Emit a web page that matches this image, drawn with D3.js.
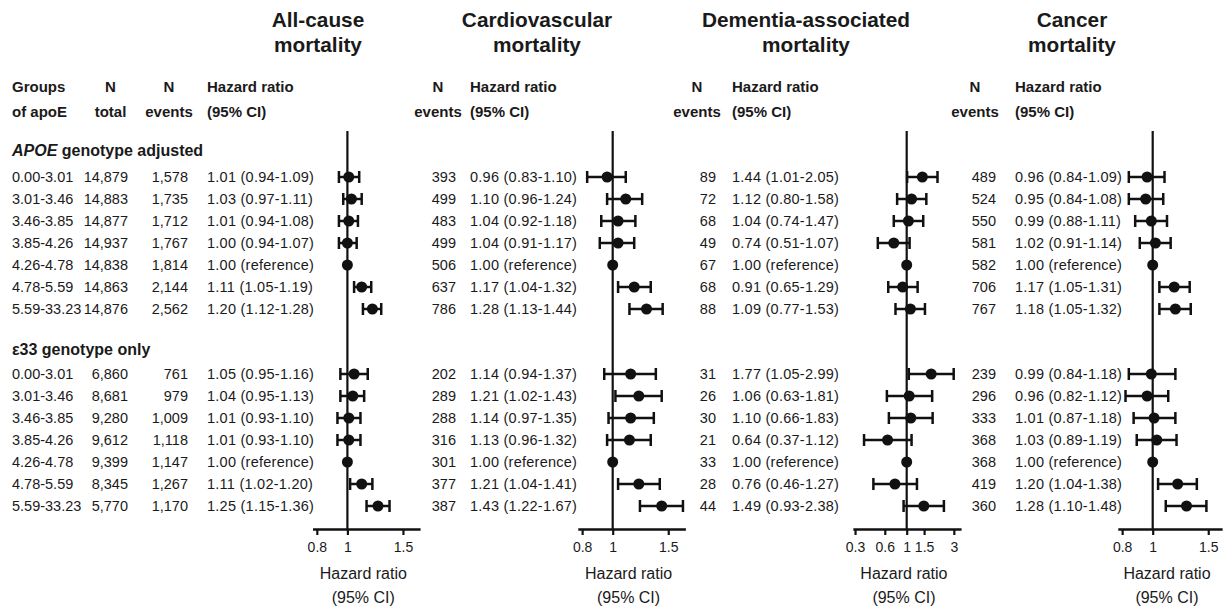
<!DOCTYPE html>
<html>
<head>
<meta charset="utf-8">
<script src="https://cdn.jsdelivr.net/npm/d3@7"></script>
<style>
  html, body { margin: 0; padding: 0; background: #fff; }
  svg { display: block; font-family: "Liberation Sans", Arial, Helvetica, sans-serif; }
</style>
</head>
<body>
<svg id="chart" width="1223" height="607"></svg>
<script>
// ---------- DATA ----------
const groups = ["0.00-3.01","3.01-3.46","3.46-3.85","3.85-4.26","4.26-4.78","4.78-5.59","5.59-33.23"];
const refIndex = 4;
const sections = ["APOE genotype adjusted", "ε33 genotype only"];

// APOE genotype adjusted
const apoeNTotal   = [14879, 14883, 14877, 14937, 14838, 14863, 14876];
const apoeAllN     = [1578, 1735, 1712, 1767, 1814, 2144, 2562];
const apoeAllHR    = [[1.01,0.94,1.09],[1.03,0.97,1.11],[1.01,0.94,1.08],[1.00,0.94,1.07],[1,1,1],[1.11,1.05,1.19],[1.20,1.12,1.28]];
const apoeCvN      = [393, 499, 483, 499, 506, 637, 786];
const apoeCvHR     = [[0.96,0.83,1.10],[1.10,0.96,1.24],[1.04,0.92,1.18],[1.04,0.91,1.17],[1,1,1],[1.17,1.04,1.32],[1.28,1.13,1.44]];
const apoeDemN     = [89, 72, 68, 49, 67, 68, 88];
const apoeDemHR    = [[1.44,1.01,2.05],[1.12,0.80,1.58],[1.04,0.74,1.47],[0.74,0.51,1.07],[1,1,1],[0.91,0.65,1.29],[1.09,0.77,1.53]];
const apoeCanN     = [489, 524, 550, 581, 582, 706, 767];
const apoeCanHR    = [[0.96,0.84,1.09],[0.95,0.84,1.08],[0.99,0.88,1.11],[1.02,0.91,1.14],[1,1,1],[1.17,1.05,1.31],[1.18,1.05,1.32]];

// e33 genotype only
const e33NTotal    = [6860, 8681, 9280, 9612, 9399, 8345, 5770];
const e33AllN      = [761, 979, 1009, 1118, 1147, 1267, 1170];
const e33AllHR     = [[1.05,0.95,1.16],[1.04,0.95,1.13],[1.01,0.93,1.10],[1.01,0.93,1.10],[1,1,1],[1.11,1.02,1.20],[1.25,1.15,1.36]];
const e33CvN       = [202, 289, 288, 316, 301, 377, 387];
const e33CvHR      = [[1.14,0.94,1.37],[1.21,1.02,1.43],[1.14,0.97,1.35],[1.13,0.96,1.32],[1,1,1],[1.21,1.04,1.41],[1.43,1.22,1.67]];
const e33DemN      = [31, 26, 30, 21, 33, 28, 44];
const e33DemHR     = [[1.77,1.05,2.99],[1.06,0.63,1.81],[1.10,0.66,1.83],[0.64,0.37,1.12],[1,1,1],[0.76,0.46,1.27],[1.49,0.93,2.38]];
const e33CanN      = [239, 296, 333, 368, 368, 419, 360];
const e33CanHR     = [[0.99,0.84,1.18],[0.96,0.82,1.12],[1.01,0.87,1.18],[1.03,0.89,1.19],[1,1,1],[1.20,1.04,1.38],[1.28,1.10,1.48]];

const titles = [["All-cause","mortality"],["Cardiovascular","mortality"],["Dementia-associated","mortality"],["Cancer","mortality"]];
const ticksStd = [0.8, 1, 1.5];
const ticksDem = [0.3, 0.6, 1, 1.5, 3];
const axisDomStd = [0.775, 1.70];
const axisDomCan = [0.775, 1.66];
const axisDomDem = [0.285, 3.55];

// ---------- LAYOUT ----------
const svg = d3.select("#chart");
const ink = "#111";
const txt = "#1a1a1a";
const rowY0 = [177, 374];
const rowStep = 22;
const sectionY = [150, 349];
const axisY = 529;
const refTop = 131;

const panels = [
  { title: titles[0], titleX: 318, nHeadX: 169, nRight: 188, hrX: 207, c: 347.4, k: 137, dom: axisDomStd, ticks: ticksStd,
    n: [apoeAllN, e33AllN], hr: [apoeAllHR, e33AllHR] },
  { title: titles[1], titleX: 537, nHeadX: 438, nRight: 456, hrX: 470, c: 612.7, k: 137, dom: axisDomStd, ticks: ticksStd,
    n: [apoeCvN, e33CvN], hr: [apoeCvHR, e33CvHR] },
  { title: titles[2], titleX: 806, nHeadX: 697, nRight: 716, hrX: 732, c: 906.7, k: 42.9, dom: axisDomDem, ticks: ticksDem,
    n: [apoeDemN, e33DemN], hr: [apoeDemHR, e33DemHR] },
  { title: titles[3], titleX: 1072, nHeadX: 975, nRight: 996, hrX: 1015, c: 1152.7, k: 137, dom: axisDomCan, ticks: ticksStd,
    n: [apoeCanN, e33CanN], hr: [apoeCanHR, e33CanHR] }
];

const fmtN = d3.format(",");
const f2 = d3.format(".2f");
const hrText = (d, i) => i === refIndex ? "1.00 (reference)" : `${f2(d[0])} (${f2(d[1])}-${f2(d[2])})`;

function text(x, y, s, opts = {}) {
  const t = svg.append("text")
    .attr("x", x).attr("y", y).attr("dy", "0.35em")
    .attr("text-anchor", opts.anchor || "start")
    .attr("font-size", opts.size || 14.5)
    .attr("font-weight", opts.weight || "normal")
    .attr("fill", txt)
    .text(s);
  if (opts.ls) t.attr("letter-spacing", opts.ls);
  return t;
}

// Left column headers
text(12, 87, "Groups", { size: 15, weight: "bold" });
text(12, 112, "of apoE", { size: 15, weight: "bold" });
text(110.5, 87, "N", { size: 15, weight: "bold", anchor: "middle" });
text(110.5, 112, "total", { size: 15, weight: "bold", anchor: "middle" });

// Section headers
const s1 = svg.append("text").attr("x", 12).attr("y", sectionY[0]).attr("dy", "0.35em")
  .attr("font-size", 16).attr("font-weight", "bold").attr("fill", txt);
s1.append("tspan").attr("font-style", "italic").text("APOE");
s1.append("tspan").text(" genotype adjusted");
text(12, sectionY[1], sections[1], { size: 16, weight: "bold" });

// Group labels and N total
const totals = [apoeNTotal, e33NTotal];
[0, 1].forEach(s => {
  groups.forEach((g, i) => {
    const y = rowY0[s] + i * rowStep;
    text(12, y, g);
    text(128, y, fmtN(totals[s][i]), { anchor: "end" });
  });
});

// Panels
panels.forEach(p => {
  const x = d3.scaleLog().domain(p.dom)
    .range([p.c + p.k * Math.log(p.dom[0]), p.c + p.k * Math.log(p.dom[1])]);

  // titles
  text(p.titleX, 20, p.title[0], { size: 20.8, weight: "bold", anchor: "middle" });
  text(p.titleX, 45, p.title[1], { size: 20.8, weight: "bold", anchor: "middle" });

  // column headers
  text(p.nHeadX, 87, "N", { size: 15, weight: "bold", anchor: "middle" });
  text(p.nHeadX, 112, "events", { size: 15, weight: "bold", anchor: "middle" });
  text(p.hrX, 87, "Hazard ratio", { size: 15, weight: "bold" });
  text(p.hrX, 112, "(95% CI)", { size: 15, weight: "bold" });

  // reference line at HR = 1
  svg.append("line")
    .attr("x1", x(1)).attr("x2", x(1))
    .attr("y1", refTop).attr("y2", axisY)
    .attr("stroke", ink).attr("stroke-width", 2.2);

  // axis
  const axis = d3.axisBottom(x).tickValues(p.ticks)
    .tickFormat(d => d3.format("~g")(d)).tickSize(6).tickSizeOuter(0).tickPadding(7);
  const ag = svg.append("g").attr("transform", `translate(0,${axisY})`).call(axis);
  ag.select(".domain").attr("stroke", ink).attr("stroke-width", 2.4);
  ag.selectAll(".tick line").attr("stroke", ink).attr("stroke-width", 2.2);
  ag.selectAll(".tick text").attr("font-size", 14).attr("fill", txt)
    .attr("font-family", '"Liberation Sans", Arial, sans-serif');

  const mid = (x.range()[0] + x.range()[1]) / 2 - 3;
  text(mid, 573, "Hazard ratio", { size: 16, anchor: "middle" });
  text(mid, 597, "(95% CI)", { size: 16, anchor: "middle" });

  // rows
  [0, 1].forEach(s => {
    const g = svg.append("g");
    p.hr[s].forEach((d, i) => {
      const y = rowY0[s] + i * rowStep;
      text(p.nRight, y, fmtN(p.n[s][i]), { anchor: "end" });
      text(p.hrX, y, hrText(d, i), { ls: 0.25 });
      if (i !== refIndex) {
        g.append("line").attr("x1", x(d[1])).attr("x2", x(d[2]))
          .attr("y1", y).attr("y2", y).attr("stroke", ink).attr("stroke-width", 2.5);
        [d[1], d[2]].forEach(v => {
          g.append("line").attr("x1", x(v)).attr("x2", x(v))
            .attr("y1", y - 6).attr("y2", y + 6).attr("stroke", ink).attr("stroke-width", 2.5);
        });
      }
      g.append("circle").attr("cx", x(d[0])).attr("cy", y).attr("r", 5.5).attr("fill", ink);
    });
  });
});
</script>
</body>
</html>
